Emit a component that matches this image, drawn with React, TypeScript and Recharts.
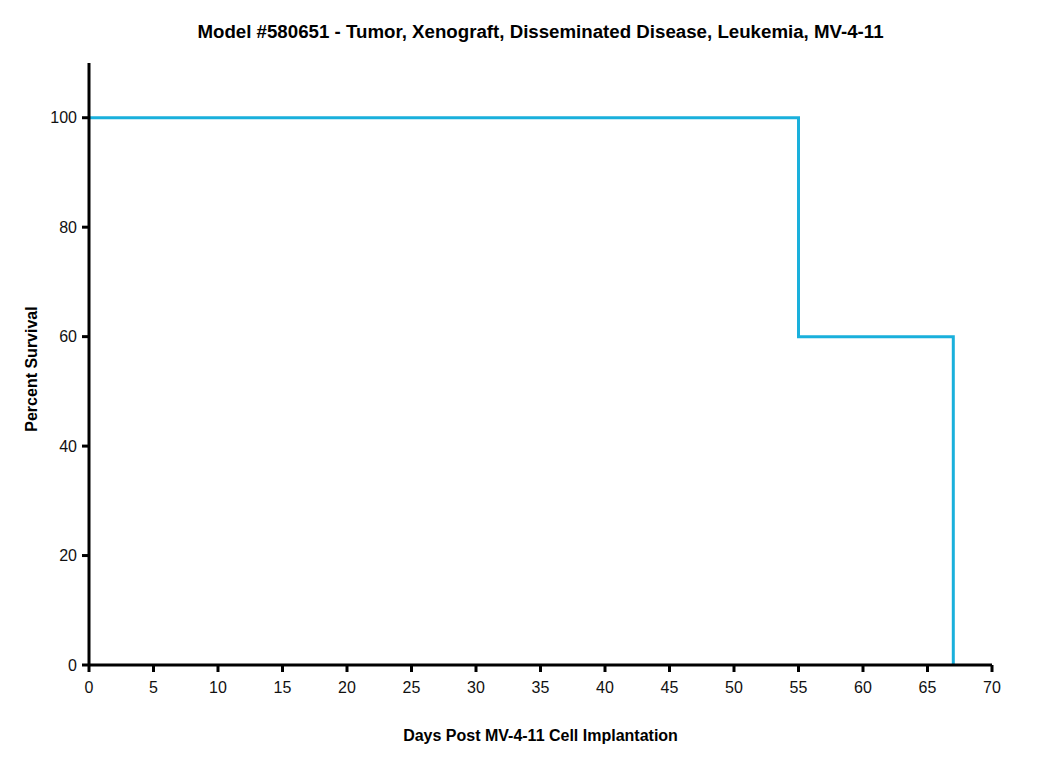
import { Line, LineChart, XAxis, YAxis, Label } from "recharts";

const days = [0, 55, 67];
const survival = [100, 60, 0];
const xTicks = [0, 5, 10, 15, 20, 25, 30, 35, 40, 45, 50, 55, 60, 65, 70];
const yTicks = [0, 20, 40, 60, 80, 100];

const data = days.map((d, i) => ({ day: d, pct: survival[i] }));

const font = "'Liberation Sans', Arial, sans-serif";

export default function App() {
  return (
    <div style={{ position: "relative", width: 1034, height: 750, fontFamily: font }}>
      <div
        style={{
          position: "absolute",
          top: 13,
          left: 81,
          width: 903,
          textAlign: "center",
          fontWeight: "bold",
          fontSize: 18.7,
          color: "#000",
        }}
      >
        Model #580651 - Tumor, Xenograft, Disseminated Disease, Leukemia, MV-4-11
      </div>
      <LineChart
        width={1034}
        height={750}
        data={data}
        margin={{ top: 55, right: 50, bottom: 63, left: 41 }}
      >
        <XAxis
          dataKey="day"
          type="number"
          domain={[0, 70]}
          ticks={xTicks}
          interval={0}
          height={30}
          stroke="#000"
          strokeWidth={3}
          tickSize={7}
          tickMargin={10}
          tick={{ fill: "#111", fontSize: 16, fontFamily: font }}
          tickLine={{ stroke: "#000", strokeWidth: 3 }}
        >
          <Label
            value="Days Post MV-4-11 Cell Implantation"
            position="bottom"
            offset={35}
            style={{ fontWeight: "bold", fontSize: 16, fill: "#000", fontFamily: font }}
          />
        </XAxis>
        <YAxis
          type="number"
          domain={[0, 110]}
          ticks={yTicks}
          interval={0}
          width={40}
          stroke="#000"
          strokeWidth={3}
          tickSize={7}
          tickMargin={5}
          tick={{ fill: "#111", fontSize: 16, fontFamily: font }}
          tickLine={{ stroke: "#000", strokeWidth: 3 }}
        >
          <Label
            value="Percent Survival"
            angle={-90}
            position="left"
            offset={18}
            dy={5}
            style={{ fontWeight: "bold", fontSize: 16, fill: "#000", fontFamily: font, textAnchor: "middle" }}
          />
        </YAxis>
        <Line
          dataKey="pct"
          type="stepAfter"
          stroke="#1AB0DC"
          strokeWidth={3}
          dot={false}
          isAnimationActive={false}
        />
      </LineChart>
    </div>
  );
}
